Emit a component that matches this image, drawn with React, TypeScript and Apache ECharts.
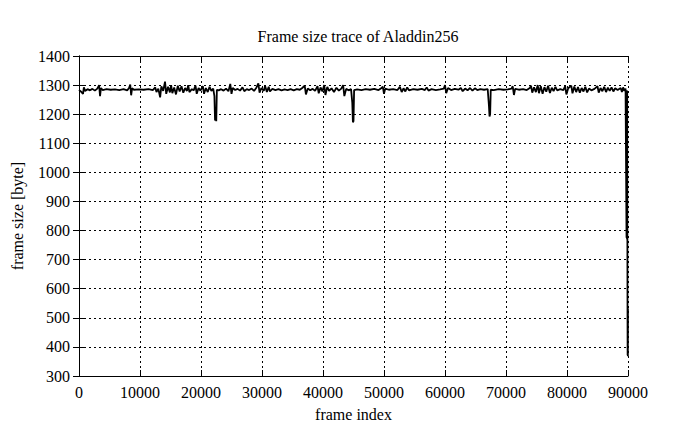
import React, { useEffect, useRef } from "react";
import * as echarts from "echarts";

const titleText = "Frame size trace of Aladdin256";
const xName = "frame index";
const yName = "frame size [byte]";

const frameIndex: number[] = [
  0, 300, 660, 800, 1000, 1400, 1800, 2200, 2600, 3000, 3300, 3450, 3600, 3900, 4500, 5200, 5900, 6600, 7300, 7900,
  8200, 8400, 8550, 8700, 9000, 9800, 10600, 11400, 12100, 12500, 12700, 13000, 13300, 13500, 13800, 14100, 14300, 14600, 14900, 15100,
  15300, 15600, 15900, 16200, 16500, 16800, 17100, 17400, 17700, 17900, 18100, 18500, 18800, 19100, 19300, 19600, 19900, 20300, 20500, 20800,
  21100, 21400, 21700, 22000, 22200, 22300, 22400, 22500, 22600, 22900, 23300, 23700, 24100, 24500, 24800, 25000, 25200, 25600, 26000, 26400,
  26800, 27100, 27500, 27900, 28300, 28700, 29100, 29400, 29600, 29900, 30300, 30500, 30800, 31100, 31300, 31700, 32200, 32700, 33200, 33700,
  34200, 34700, 35200, 35700, 36200, 36600, 37000, 37200, 37500, 37900, 38300, 38700, 39100, 39300, 39600, 39900, 40200, 40400, 40700, 41000,
  41400, 41800, 42200, 42600, 43000, 43300, 43500, 43800, 44200, 44600, 44800, 44900, 45000, 45100, 45600, 46300, 47000, 47700, 48400, 49100,
  49600, 49800, 50000, 50200, 50800, 51500, 52200, 52600, 52900, 53200, 53500, 53800, 54100, 54800, 55500, 56200, 56700, 57000, 57300, 57800,
  58500, 59200, 59800, 60000, 60200, 60500, 61000, 61600, 62200, 62600, 62900, 63300, 63700, 64100, 64500, 64900, 65300, 65800, 66400, 67000,
  67200, 67300, 67400, 67500, 68000, 68800, 69600, 70300, 70900, 71100, 71300, 71500, 72100, 72800, 73400, 73900, 74100, 74300, 74600, 74900,
  75200, 75400, 75700, 76000, 76300, 76600, 76900, 77200, 77500, 77800, 78100, 78400, 78900, 79400, 79700, 79900, 80200, 80700, 80900, 81200,
  81500, 81800, 82100, 82400, 82700, 83000, 83300, 83600, 84000, 84500, 85000, 85200, 85500, 85800, 86100, 86400, 86700, 87000, 87300, 87600,
  87900, 88300, 88800, 89000, 89200, 89400, 89600, 89760, 89800, 89840, 89870, 89900, 89920, 89940, 89960, 89975, 89990
];

const frameSize: number[] = [
  1283, 1278, 1270, 1292, 1280, 1286, 1282, 1287, 1281, 1288, 1300, 1262, 1290, 1283, 1286, 1284, 1285, 1283, 1286, 1282,
  1290, 1302, 1265, 1289, 1284, 1285, 1284, 1286, 1283, 1292, 1276, 1288, 1258, 1296, 1280, 1312, 1270, 1294, 1275, 1300,
  1272, 1292, 1268, 1298, 1278, 1296, 1274, 1290, 1280, 1300, 1276, 1286, 1282, 1298, 1270, 1290, 1281, 1296, 1270, 1290,
  1276, 1294, 1280, 1288, 1262, 1178, 1200, 1176, 1284, 1282, 1286, 1281, 1288, 1279, 1304, 1270, 1290, 1283, 1287, 1281,
  1292, 1279, 1286, 1283, 1288, 1280, 1292, 1306, 1274, 1290, 1280, 1298, 1276, 1294, 1278, 1287, 1283, 1286, 1282, 1285,
  1283, 1286, 1282, 1286, 1284, 1290, 1298, 1268, 1288, 1282, 1287, 1280, 1296, 1272, 1292, 1278, 1300, 1266, 1294, 1280,
  1289, 1276, 1291, 1281, 1288, 1300, 1262, 1287, 1282, 1286, 1240, 1172, 1176, 1283, 1285, 1283, 1286, 1284, 1287, 1283,
  1290, 1295, 1270, 1288, 1284, 1286, 1283, 1294, 1276, 1289, 1278, 1292, 1282, 1286, 1284, 1287, 1283, 1292, 1281, 1286,
  1283, 1285, 1288, 1300, 1272, 1290, 1283, 1287, 1284, 1290, 1279, 1288, 1282, 1290, 1281, 1289, 1283, 1286, 1284, 1286,
  1230, 1192, 1200, 1284, 1283, 1286, 1284, 1285, 1288, 1296, 1266, 1287, 1284, 1286, 1283, 1290, 1298, 1274, 1292, 1276,
  1300, 1272, 1296, 1270, 1293, 1277, 1298, 1273, 1291, 1279, 1294, 1282, 1286, 1283, 1296, 1268, 1289, 1298, 1272, 1295,
  1276, 1293, 1274, 1290, 1278, 1294, 1275, 1288, 1282, 1287, 1296, 1274, 1290, 1279, 1294, 1276, 1291, 1280, 1292, 1278,
  1289, 1283, 1290, 1276, 1292, 1280, 1288, 775, 1282, 770, 1280, 772, 540, 372, 535, 368, 530
];

const FONT = "'Liberation Serif', 'DejaVu Serif', serif";

export default function App() {
  const ref = useRef<HTMLDivElement>(null);
  useEffect(() => {
    if (!ref.current) return;
    const chart = echarts.init(ref.current, null, { renderer: "svg" });
    const data = frameIndex.map((x, i) => [x, frameSize[i]]);
    const splitLine = { show: true, lineStyle: { color: "#000", type: [2, 3], width: 1 } };
    const axisLine = { show: true, lineStyle: { color: "#000", width: 1 } };
    const axisTick = { show: true, inside: true, length: 6, lineStyle: { color: "#000" } };
    const plain = (v: number) => String(v);
    chart.setOption({
      animation: false,
      backgroundColor: "#fff",
      title: {
        text: titleText,
        left: 353,
        textAlign: "center",
        top: 23,
        textStyle: { fontFamily: FONT, fontSize: 16, fontWeight: "normal", color: "#000" },
      },
      grid: { left: 79, right: 67, top: 56, bottom: 53, containLabel: false },
      xAxis: [
        {
          type: "value",
          min: 0,
          max: 90000,
          interval: 10000,
          name: xName,
          nameLocation: "middle",
          nameGap: 30,
          nameTextStyle: { fontFamily: FONT, fontSize: 16, color: "#000" },
          axisLine,
          axisTick,
          splitLine,
          axisLabel: { fontFamily: FONT, fontSize: 16, color: "#000", margin: 8, formatter: plain },
        },
        {
          type: "value",
          position: "top",
          min: 0,
          max: 90000,
          interval: 10000,
          axisLine,
          axisTick,
          splitLine: { show: false },
          axisLabel: { show: false },
        },
      ],
      yAxis: [
        {
          type: "value",
          min: 300,
          max: 1400,
          interval: 100,
          name: yName,
          nameLocation: "middle",
          nameRotate: 90,
          nameGap: 54,
          nameTextStyle: { fontFamily: FONT, fontSize: 16, color: "#000" },
          axisLine,
          axisTick,
          splitLine,
          axisLabel: { fontFamily: FONT, fontSize: 16, color: "#000", margin: 9, formatter: plain },
        },
        {
          type: "value",
          position: "right",
          min: 300,
          max: 1400,
          interval: 100,
          axisLine,
          axisTick,
          splitLine: { show: false },
          axisLabel: { show: false },
        },
      ],
      series: [
        {
          type: "line",
          data,
          xAxisIndex: 0,
          yAxisIndex: 0,
          showSymbol: false,
          symbol: "none",
          lineStyle: { color: "#000", width: 1.8 },
        },
      ],
    });
    return () => chart.dispose();
  }, []);
  return <div ref={ref} style={{ width: 695, height: 429, position: "absolute", left: 0, top: 0 }} />;
}
